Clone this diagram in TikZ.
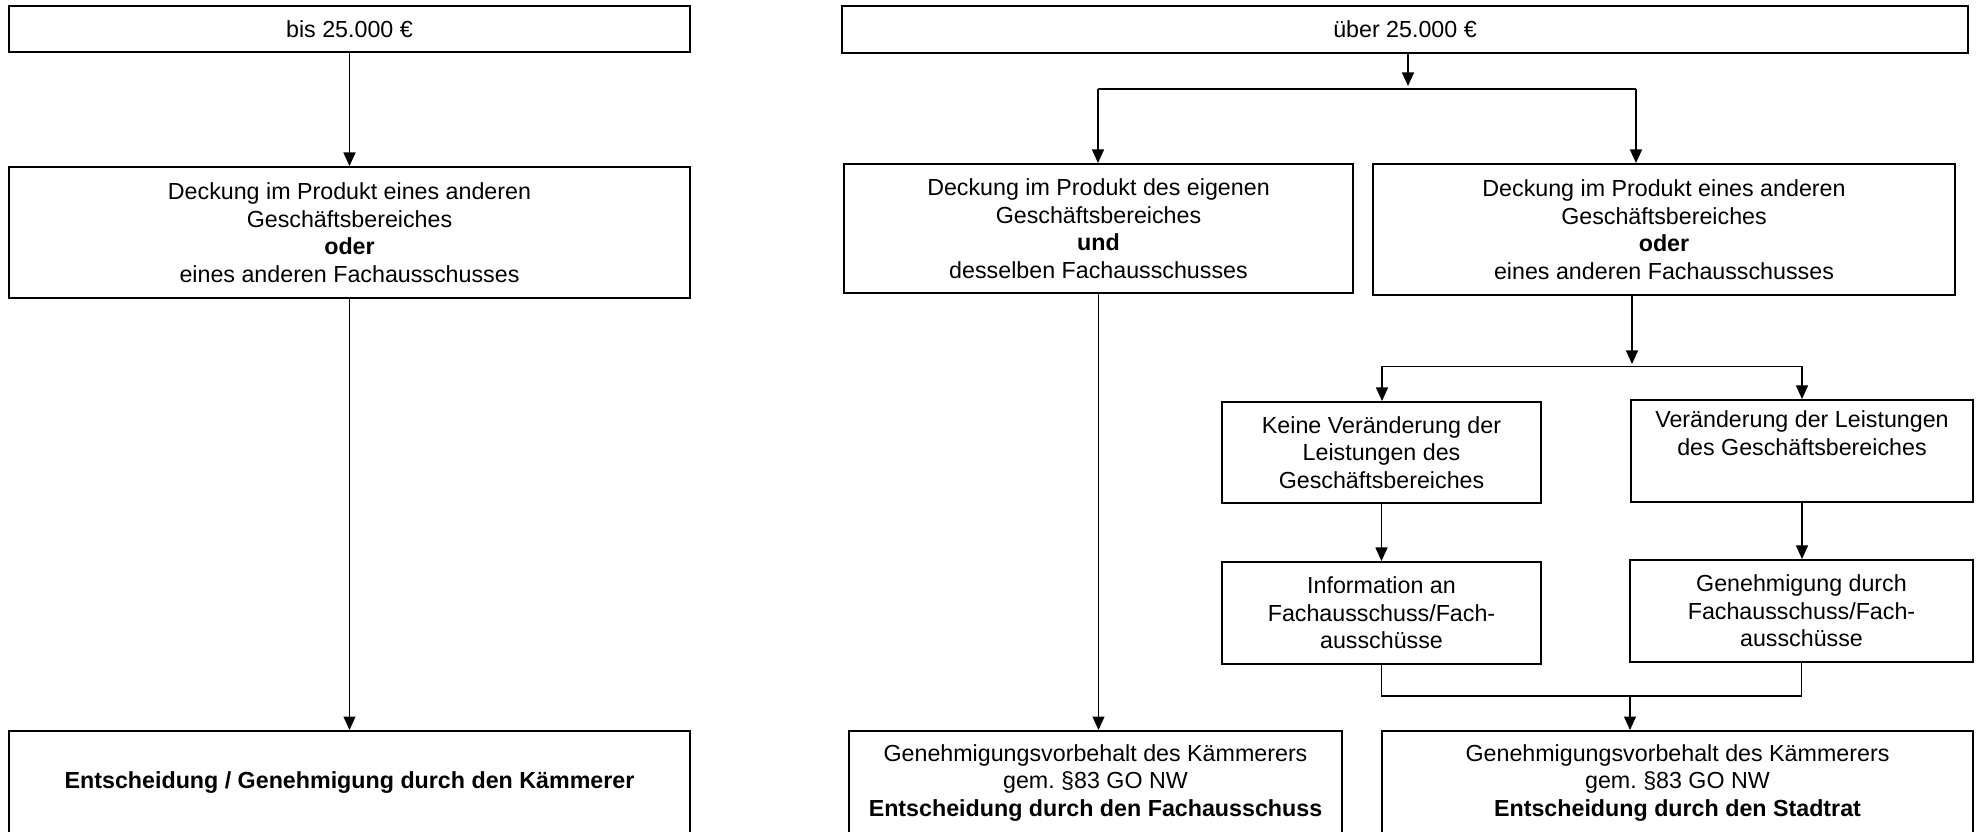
\documentclass[tikz,border=0pt]{standalone}
\usepackage{fontspec}
\setmainfont{Liberation Sans}
\usetikzlibrary{arrows.meta, positioning}
\frenchspacing
\tikzset{
  chartbox/.style 2 args={
    draw, line width=0.8pt, align=center, inner sep=0pt,
    minimum width=#1*0.4pt, minimum height=#2*0.4pt
  },
  flow/.style={line width=0.55pt, -{Triangle[length=5.4pt, width=4.8pt]}},
  link/.style={line width=0.55pt}
}

\begin{document}
\begin{tikzpicture}[x=0.4pt, y=-0.4pt, font=\fontsize{9.3}{11}\selectfont]
  \useasboundingbox (0,0) rectangle (1982,832);

  % ── bis 25.000 € ─────────────────────────────────────────────────
  \node[chartbox={681}{46}]  (bis)   at (349.5,29)    {bis 25.000 €};
  \node[chartbox={681}{131}] (deckL) at (349.5,232.5)
    {Deckung im Produkt eines anderen\\Geschäftsbereiches\\\textbf{oder}\\eines anderen Fachausschusses};
  \node[chartbox={681}{104}] (kaemm) at (349.5,783)
    {\textbf{Entscheidung / Genehmigung durch den Kämmerer}};

  \draw[flow] (bis)   -- (deckL);
  \draw[flow] (deckL) -- (kaemm);

  % ── über 25.000 € ────────────────────────────────────────────────
  \node[chartbox={1126}{47}] (ueber) at (1405,29.5) {über 25.000 €};
  \node[chartbox={509}{129}] (deckE) at (1098.5,228.5)
    {Deckung im Produkt des eigenen\\Geschäftsbereiches\\\textbf{und}\\desselben Fachausschusses};
  \node[chartbox={582}{131}] (deckA) at (1664,229.5)
    {Deckung im Produkt eines anderen\\Geschäftsbereiches\\\textbf{oder}\\eines anderen Fachausschusses};

  \node[chartbox={319}{101}] (keine)   at (1381.5,452.5)
    {Keine Veränderung der\\Leistungen des\\Geschäftsbereiches};
  \node[chartbox={342}{102}] (veraend) at (1802,451)
    {Veränderung der Leistungen\\des Geschäftsbereiches\\\strut};
  \node[chartbox={319}{102}] (info)    at (1381.5,613)
    {Information an\\Fachausschuss/Fach-\\ausschüsse};
  \node[chartbox={343}{102}] (genFA)   at (1801.5,611)
    {Genehmigung durch\\Fachausschuss/Fach-\\ausschüsse};

  \node[chartbox={493}{104}] (vorbFA) at (1095.5,783)
    {Genehmigungsvorbehalt des Kämmerers\\gem. §83 GO NW\\\textbf{Entscheidung durch den Fachausschuss}};
  \node[chartbox={591}{104}] (vorbSR) at (1677.5,783)
    {Genehmigungsvorbehalt des Kämmerers\\gem. §83 GO NW\\\textbf{Entscheidung durch den Stadtrat}};

  % split below über
  \coordinate (uTip) at (1408,86);
  \coordinate (uL)   at (1098,89);
  \coordinate (uR)   at (1636,89);
  \draw[flow] (ueber.south -| uTip) -- (uTip);
  \draw[link] (uL) -- (uR);
  \draw[flow] (uL) -- (uL |- deckE.north);
  \draw[flow] (uR) -- (uR |- deckA.north);

  \draw[flow] (deckE.south) -- (deckE.south |- vorbFA.north);

  % split below the other product
  \coordinate (aTip) at (1632,364);
  \coordinate (aL)   at (1382,366.5);
  \coordinate (aR)   at (1802,366.5);
  \draw[flow] (deckA.south -| aTip) -- (aTip);
  \draw[link] (aL) -- (aR);
  \draw[flow] (aL) -- (aL |- keine.north);
  \draw[flow] (aR) -- (aR |- veraend.north);

  \draw[flow] (keine) -- (info);
  \draw[flow] (veraend.south) -- (veraend.south |- genFA.north);

  % join into Stadtrat
  \coordinate (join) at (1630,696);
  \draw[link] (info.south) |- (join) -| (genFA.south);
  \draw[flow] (join) -- (join |- vorbSR.north);
\end{tikzpicture}
\end{document}
